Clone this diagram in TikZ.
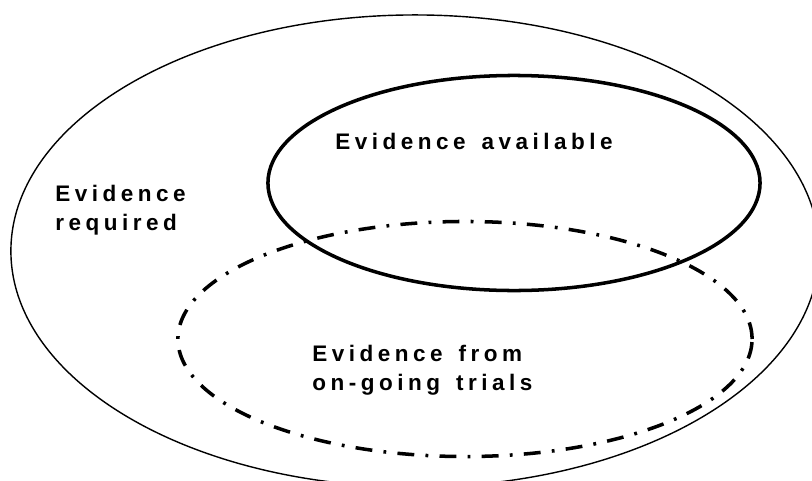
\documentclass[tikz,border=0pt]{standalone}
\usepackage{fontspec}
\setmainfont{Liberation Sans}
\newfontfamily\vennfont[LetterSpace=20, WordSpace=1.5]{Liberation Sans Bold}
\usetikzlibrary{shapes.geometric}
\tikzset{
    set/.style={draw, ellipse, inner sep=0pt},
    wideset/.style={set, line width=1pt},
    boldset/.style={set, line width=2.5pt},
    trialset/.style={set, line width=2.5pt, dash pattern=on 12pt off 8pt on 2pt off 8pt},
    label/.style={inner sep=0pt, anchor=base west, align=left, font=\vennfont\fontsize{16}{20.6}\selectfont}
}
\begin{document}
\begin{tikzpicture}[x=0.025cm, y=-0.025cm]
\useasboundingbox (0,0) rectangle (812,481);
\clip (0,0) rectangle (812,481);
\node[wideset, minimum width=20.2cm, minimum height=11.8cm] (required) at (415,251) {};
\node[boldset, minimum width=12.3cm, minimum height=5.375cm] (available) at (514,183) {};
\node[trialset, minimum width=14.35cm, minimum height=5.875cm] (trials) at (465,339) {};
% base anchor sits on the last line
\node[label] (reqtext) at (55,230) {Evidence\\required};
\node[label] (availtext) at (335,149) {Evidence available};
\node[label] (trialtext) at (312,390) {Evidence from\\on-going trials};
\end{tikzpicture}
\end{document}
